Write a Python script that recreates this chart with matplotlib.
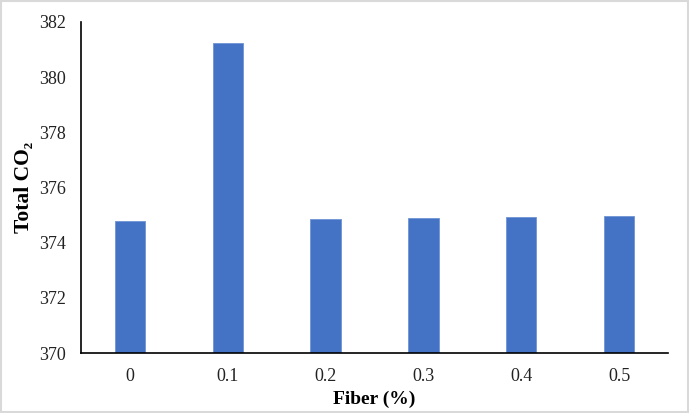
import matplotlib
matplotlib.use('Agg')
import matplotlib.pyplot as plt
from matplotlib.patches import Rectangle

fiber = ['0', '0.1', '0.2', '0.3', '0.4', '0.5']
total_co2 = [374.79, 381.24, 374.85, 374.89, 374.92, 374.95]
y_ticks = [370, 372, 374, 376, 378, 380, 382]

plt.rcParams['font.family'] = ['Liberation Serif', 'DejaVu Serif']

fig = plt.figure(figsize=(6.89, 4.13), dpi=100)
ax = fig.add_axes([81 / 689, 1 - 353 / 413, 587 / 689, 331 / 413])

x = range(len(fiber))
ax.bar(x, total_co2, width=0.31, color='#4472C4', edgecolor='#6f93d4', linewidth=0.6)

ax.set_xlim(-0.5, len(fiber) - 0.5)
ax.set_ylim(370, 382)
ax.set_xticks(list(x))
ax.set_xticklabels(fiber)
ax.set_yticks(y_ticks)
ax.tick_params(axis='both', length=0, labelsize=13, colors='#222222')
ax.tick_params(axis='x', pad=11)
ax.tick_params(axis='y', pad=11)

for side in ['top', 'right']:
    ax.spines[side].set_visible(False)
for side in ['left', 'bottom']:
    ax.spines[side].set_linewidth(1.2)
    ax.spines[side].set_color('black')

ax.set_xlabel('Fiber (%)', fontsize=14, fontweight='bold', labelpad=4)
ax.set_ylabel('Total CO\u2082', fontsize=15.5, fontweight='bold')
ax.yaxis.set_label_coords(-0.08, 0.5)

# light frame around the whole chart
fig.patches.append(Rectangle((0.001, 0.002), 0.997, 0.995, transform=fig.transFigure,
                             fill=False, edgecolor='#d9d9d9', linewidth=1.5))

plt.savefig('out.png', dpi=100)
